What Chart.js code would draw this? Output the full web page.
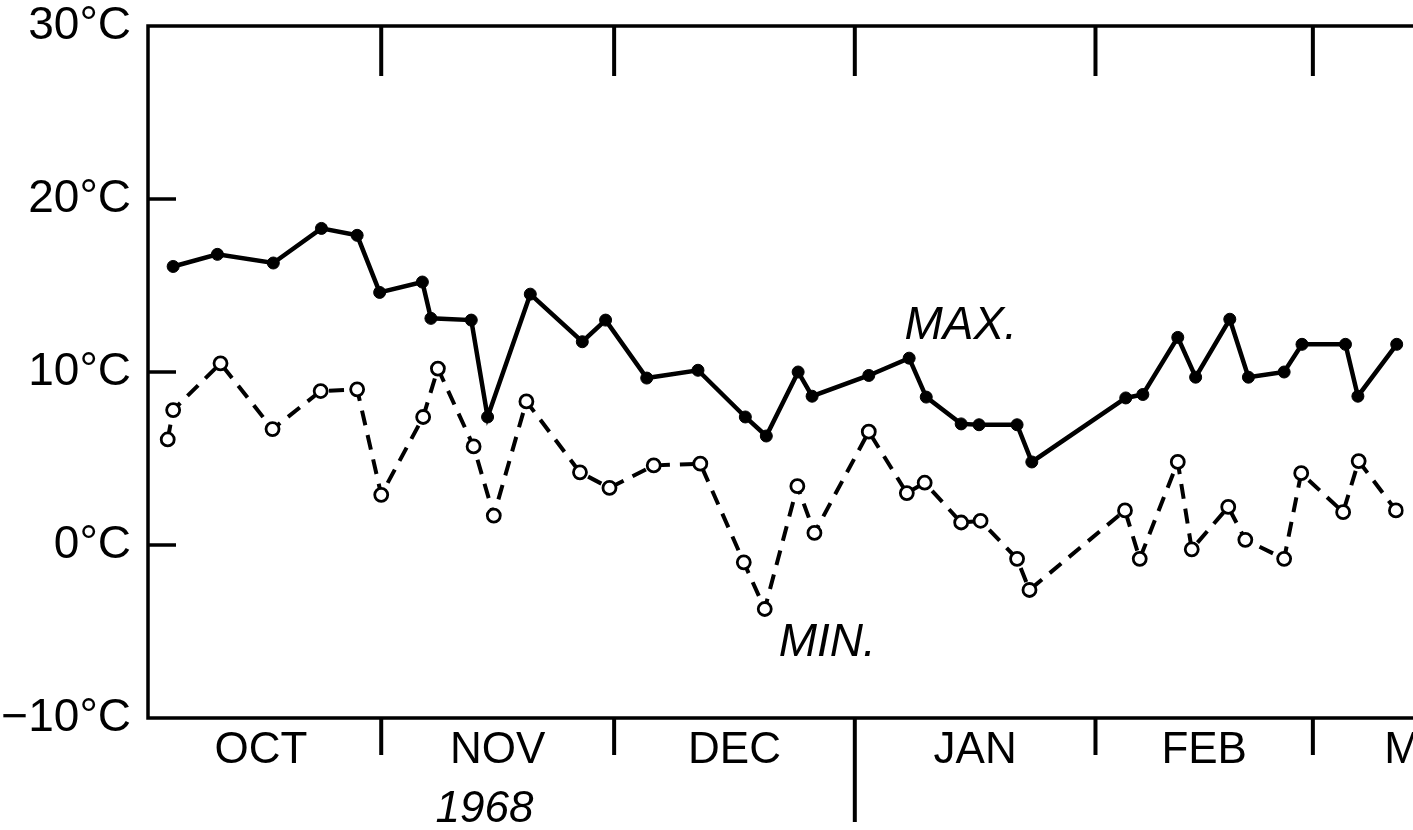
<!DOCTYPE html>
<html>
<head>
<meta charset="utf-8">
<script src="https://cdn.jsdelivr.net/npm/chart.js@4.4.0/dist/chart.umd.min.js"></script>
<style>
  html, body { margin: 0; padding: 0; background: #ffffff; }
  #wrap { width: 1413px; height: 830px; position: relative; }
</style>
</head>
<body>
<div id="wrap"><canvas id="c"></canvas></div>
<script>
// ---- Data (x = days elapsed since 1 Oct 1968) ----
const MAX_DAY  = [4.2, 9.9, 17.1, 23.3, 27.9, 30.8, 36.3, 37.4, 42.6, 44.7,
                  50.2, 56.9, 59.9, 65.2, 71.8, 77.9, 80.6, 84.7, 86.5, 93.8,
                  99.0, 101.2, 105.7, 108.0, 112.9, 114.8, 126.9, 129.1, 133.6, 135.9,
                  140.3, 142.7, 147.3, 149.6, 155.2, 156.8, 161.8];
const MAX_TEMP = [16.1, 16.8, 16.3, 18.3, 17.9, 14.6, 15.2, 13.1, 13.0, 7.4,
                  14.5, 11.75, 13.0, 9.65, 10.1, 7.4, 6.3, 10.0, 8.6, 9.8,
                  10.8, 8.55, 7.0, 6.95, 6.95, 4.8, 8.5, 8.7, 12.0, 9.7,
                  13.05, 9.7, 10.0, 11.6, 11.6, 8.6, 11.6];
const MIN_DAY  = [3.5, 4.2, 10.3, 17.0, 23.2, 27.9, 31.0, 36.4, 38.3, 42.9,
                  45.5, 49.7, 56.6, 60.4, 66.1, 72.1, 77.7, 80.4, 84.6, 86.8,
                  93.8, 98.7, 101.0, 105.7, 108.2, 112.9, 114.5, 126.8, 128.7, 133.6,
                  135.4, 140.1, 142.3, 147.3, 149.5, 154.9, 156.9, 161.7];
const MIN_TEMP = [6.1, 7.8, 10.5, 6.7, 8.9, 9.0, 2.9, 7.4, 10.2, 5.7,
                  1.7, 8.3, 4.2, 3.3, 4.6, 4.7, -1.0, -3.7, 3.4, 0.7,
                  6.55, 3.0, 3.6, 1.3, 1.4, -0.8, -2.6, 2.0, -0.8, 4.8,
                  -0.25, 2.2, 0.3, -0.8, 4.15, 1.9, 4.85, 2.0];

const MONTHS      = ["OCT", "NOV", "DEC", "JAN", "FEB", "MAR"];
const MONTH_START = [0, 31, 61, 92, 123, 151, 182];   // day boundaries
const YEAR_BREAK  = 92;                                // 1 Jan 1969
const YEAR_LABEL  = "1968";
const Y_TICKS       = [-10, 0, 10, 20, 30];
const Y_TICK_LABELS = ["\u221210\u00B0C", "0\u00B0C", "10\u00B0C", "20\u00B0C", "30\u00B0C"];
const Y_INNER_TICKS = [0, 10, 20];
const SERIES_NAMES  = ["MAX.", "MIN."];

const FONT = '"Liberation Sans", Arial, Helvetica, sans-serif';

function pts(xs, ys) { return xs.map((x, i) => ({ x: x, y: ys[i] })); }

const framePlugin = {
  id: 'frame',
  beforeDatasetsDraw(chart) {
    const ctx = chart.ctx, a = chart.chartArea;
    const xs = chart.scales.x, ys = chart.scales.y;
    ctx.save();
    ctx.strokeStyle = '#000';
    ctx.lineCap = 'butt';
    // frame: top, left, bottom
    ctx.lineWidth = 3.5;
    ctx.beginPath();
    ctx.moveTo(chart.width, a.top); ctx.lineTo(a.left, a.top);
    ctx.lineTo(a.left, a.bottom); ctx.lineTo(chart.width, a.bottom);
    ctx.stroke();
    // inner y ticks
    Y_INNER_TICKS.forEach(v => {
      const y = ys.getPixelForValue(v);
      ctx.beginPath(); ctx.moveTo(a.left, y); ctx.lineTo(a.left + 28, y); ctx.stroke();
    });
    // month boundary ticks
    ctx.lineWidth = 4;
    MONTH_START.forEach(v => {
      if (v <= xs.min || v >= xs.max) return;
      const x = xs.getPixelForValue(v);
      ctx.beginPath(); ctx.moveTo(x, a.top); ctx.lineTo(x, a.top + 50); ctx.stroke();
      const len = (v === YEAR_BREAK) ? 104 : 37;
      ctx.beginPath(); ctx.moveTo(x, a.bottom); ctx.lineTo(x, a.bottom + len); ctx.stroke();
    });
    // month names
    ctx.fillStyle = '#000';
    ctx.font = '44px ' + FONT;
    ctx.textAlign = 'center';
    ctx.textBaseline = 'alphabetic';
    MONTHS.forEach((m, i) => {
      const mid = (MONTH_START[i] + MONTH_START[i + 1]) / 2;
      ctx.fillText(m, xs.getPixelForValue(mid), a.bottom + 45);
    });
    // year
    ctx.font = 'italic 44px ' + FONT;
    ctx.fillText(YEAR_LABEL, xs.getPixelForValue(44.3), a.bottom + 104);
    // series labels
    ctx.font = 'italic 46px ' + FONT;
    ctx.textAlign = 'left';
    ctx.fillText(SERIES_NAMES[0], xs.getPixelForValue(98.4), ys.getPixelForValue(11.9));
    ctx.fillText(SERIES_NAMES[1], xs.getPixelForValue(82.2), ys.getPixelForValue(-6.4));
    ctx.restore();
  }
};

new Chart(document.getElementById('c'), {
  type: 'scatter',
  data: {
    datasets: [
      {
        label: SERIES_NAMES[0],
        data: pts(MAX_DAY, MAX_TEMP),
        showLine: true,
        borderColor: '#000',
        borderWidth: 4.5,
        pointRadius: 6,
        pointBackgroundColor: '#000',
        pointBorderColor: '#000',
        pointBorderWidth: 1,
        tension: 0
      },
      {
        label: SERIES_NAMES[1],
        data: pts(MIN_DAY, MIN_TEMP),
        showLine: true,
        borderColor: '#000',
        borderWidth: 4,
        borderDash: [15, 10],
        pointRadius: 6.5,
        pointBackgroundColor: '#fff',
        pointBorderColor: '#000',
        pointBorderWidth: 2.8,
        tension: 0
      }
    ]
  },
  options: {
    responsive: true,
    maintainAspectRatio: false,
    animation: false,
    events: [],
    layout: { padding: { top: 26, bottom: 112, left: 0, right: 0 } },
    plugins: { legend: { display: false }, tooltip: { enabled: false } },
    scales: {
      x: {
        type: 'linear',
        min: 0.96,
        max: 162.7,
        display: false
      },
      y: {
        min: -10,
        max: 30,
        afterFit(scale) { scale.width = 148; scale.paddingTop = 0; scale.paddingBottom = 0; },
        afterBuildTicks(scale) { scale.ticks = Y_TICKS.map(v => ({ value: v })); },
        grid: { display: false, drawTicks: false },
        border: { display: false },
        ticks: {
          padding: 17,
          color: '#000',
          font: { family: FONT, size: 46, lineHeight: 1.0 },
          callback: (v, i) => Y_TICK_LABELS[i]
        }
      }
    }
  },
  plugins: [framePlugin]
});
</script>
</body>
</html>
